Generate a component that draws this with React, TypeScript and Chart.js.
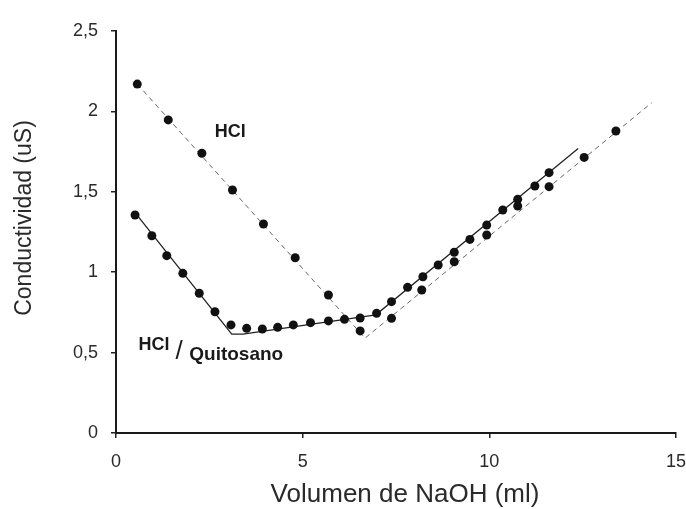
import React, { useEffect, useRef } from "react";
import { Chart, registerables } from "chart.js";

Chart.register(...registerables);

// Titration of HCl (alone) with NaOH
const hclVolume = [0.57, 1.4, 2.3, 3.12, 3.95, 4.8, 5.69, 6.54, 7.38, 8.19, 9.06, 9.93, 10.76, 11.6, 12.54, 13.39];
const hclConductivity = [2.17, 1.947, 1.74, 1.511, 1.3, 1.09, 0.858, 0.635, 0.713, 0.889, 1.065, 1.231, 1.412, 1.532, 1.714, 1.878];

// Titration of HCl / Quitosano with NaOH
const quitVolume = [0.51, 0.96, 1.36, 1.79, 2.23, 2.65, 3.08, 3.5, 3.92, 4.33, 4.75, 5.21, 5.69, 6.12, 6.54, 6.98, 7.38, 7.81, 8.22, 8.63, 9.06, 9.48, 9.93, 10.36, 10.76, 11.22, 11.6];
const quitConductivity = [1.356, 1.227, 1.103, 0.993, 0.869, 0.754, 0.672, 0.651, 0.647, 0.657, 0.672, 0.686, 0.697, 0.707, 0.715, 0.744, 0.817, 0.906, 0.972, 1.045, 1.124, 1.204, 1.293, 1.387, 1.453, 1.536, 1.619];

// Fitted straight-line segments
const hclFitVolume = [0.57, 6.67, 14.35];
const hclFitConductivity = [2.17, 0.59, 2.054];
const quitFitVolume = [0.51, 3.1, 3.4, 6.96, 12.38];
const quitFitConductivity = [1.37, 0.615, 0.615, 0.735, 1.77];

// Axes
const xTicks = [0, 5, 10, 15];
const xTickLabels = ["0", "5", "10", "15"];
const yTicks = [0, 0.5, 1, 1.5, 2, 2.5];
const yTickLabels = ["0", "0,5", "1", "1,5", "2", "2,5"];
const xTitle = "Volumen de NaOH (ml)";
const yTitle = "Conductividad (uS)";

// In-plot labels, anchored in data units
const hclLabel = { text: "HCl", x: 3.06, y: 1.87 };
const quitLabelHcl = { text: "HCl", x: 1.02, y: 0.55 };
const quitLabelSlash = { text: "/", x: 1.69, y: 0.505 };
const quitLabelName = { text: "Quitosano", x: 3.22, y: 0.485 };

const FONT = "'Liberation Sans', Arial, Helvetica, sans-serif";

const toPoints = (xs: number[], ys: number[]) => xs.map((x, i) => ({ x, y: ys[i] }));

const labelsPlugin = {
  id: "textLabels",
  afterDraw(chart: any) {
    const { ctx, scales } = chart;
    const xs = scales.x;
    const ys = scales.y;
    ctx.save();
    ctx.textAlign = "center";
    ctx.textBaseline = "middle";

    // axis titles
    ctx.fillStyle = "#2a2a2a";
    ctx.font = `26px ${FONT}`;
    ctx.fillText(xTitle, 405, 495);
    ctx.save();
    ctx.translate(25, 218);
    ctx.rotate(-Math.PI / 2);
    ctx.font = `23px ${FONT}`;
    ctx.fillText(yTitle, 0, 0);
    ctx.restore();

    // series labels
    ctx.fillStyle = "#1a1a1a";
    ctx.font = `bold 18px ${FONT}`;
    ctx.fillText(hclLabel.text, xs.getPixelForValue(hclLabel.x), ys.getPixelForValue(hclLabel.y));
    ctx.fillText(quitLabelHcl.text, xs.getPixelForValue(quitLabelHcl.x), ys.getPixelForValue(quitLabelHcl.y));
    ctx.font = `26px ${FONT}`;
    ctx.fillText(quitLabelSlash.text, xs.getPixelForValue(quitLabelSlash.x), ys.getPixelForValue(quitLabelSlash.y));
    ctx.font = `bold 19px ${FONT}`;
    ctx.fillText(quitLabelName.text, xs.getPixelForValue(quitLabelName.x), ys.getPixelForValue(quitLabelName.y));
    ctx.restore();
  },
};

export default function App() {
  const canvasRef = useRef<HTMLCanvasElement | null>(null);

  useEffect(() => {
    const canvas = canvasRef.current;
    if (!canvas) return;

    const markerStyle = {
      showLine: false,
      pointRadius: 4.5,
      pointHoverRadius: 4.5,
      pointBackgroundColor: "#111",
      pointBorderColor: "#111",
      pointBorderWidth: 0,
    };

    const chart = new Chart(canvas, {
      type: "scatter",
      data: {
        datasets: [
          { label: "HCl", data: toPoints(hclVolume, hclConductivity), order: 0, ...markerStyle },
          { label: "HCl/Quitosano", data: toPoints(quitVolume, quitConductivity), order: 1, ...markerStyle },
          {
            label: "HCl ajuste",
            data: toPoints(hclFitVolume, hclFitConductivity),
            showLine: true,
            pointRadius: 0,
            borderColor: "#666",
            borderWidth: 1,
            borderDash: [5, 4],
            order: 3,
          },
          {
            label: "HCl/Quitosano ajuste",
            data: toPoints(quitFitVolume, quitFitConductivity),
            showLine: true,
            pointRadius: 0,
            borderColor: "#222",
            borderWidth: 1.3,
            order: 2,
          },
        ],
      },
      options: {
        responsive: false,
        animation: false,
        devicePixelRatio: 1,
        layout: { padding: { top: 31, right: 10, left: 0, bottom: 0 } },
        plugins: { legend: { display: false }, tooltip: { enabled: false } },
        scales: {
          x: {
            type: "linear",
            min: 0,
            max: 15,
            afterBuildTicks: (scale: any) => {
              scale.ticks = xTicks.map((value) => ({ value }));
            },
            afterFit: (scale: any) => {
              scale.height = 76;
              scale.paddingLeft = 0;
              scale.paddingRight = 0;
            },
            ticks: {
              autoSkip: false,
              maxRotation: 0,
              padding: 13,
              color: "#2a2a2a",
              font: { family: FONT, size: 18 },
              callback: (value: any) => xTickLabels[xTicks.indexOf(Number(value))] ?? "",
            },
            grid: { drawOnChartArea: false, drawTicks: true, tickLength: 5, tickColor: "#222", lineWidth: 1.5 },
            border: { display: true, color: "#1a1a1a", width: 2 },
          },
          y: {
            type: "linear",
            min: 0,
            max: 2.5,
            afterBuildTicks: (scale: any) => {
              scale.ticks = yTicks.map((value) => ({ value }));
            },
            afterFit: (scale: any) => {
              scale.width = 116;
              scale.paddingTop = 0;
              scale.paddingBottom = 0;
            },
            ticks: {
              autoSkip: false,
              padding: 13,
              color: "#2a2a2a",
              font: { family: FONT, size: 18 },
              callback: (value: any) => yTickLabels[yTicks.indexOf(Number(value))] ?? "",
            },
            grid: { drawOnChartArea: false, drawTicks: true, tickLength: 5, tickColor: "#222", lineWidth: 1.5 },
            border: { display: true, color: "#1a1a1a", width: 2 },
          },
        },
      },
      plugins: [labelsPlugin],
    });

    return () => chart.destroy();
  }, []);

  return (
    <div style={{ position: "absolute", left: 0, top: 0, width: 686, height: 509, background: "#fff" }}>
      <canvas ref={canvasRef} width={686} height={509} />
    </div>
  );
}
